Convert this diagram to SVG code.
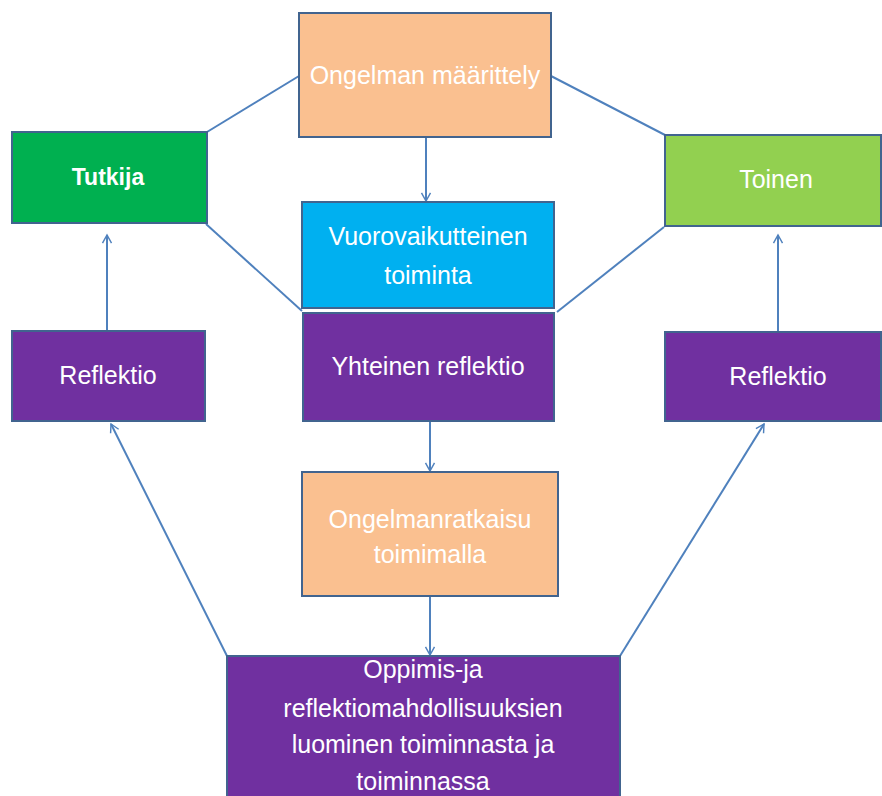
<svg xmlns="http://www.w3.org/2000/svg" width="882" height="796" viewBox="0 0 882 796">
<style>
.box{stroke:#41648F;stroke-width:2}
.t{font-family:"Liberation Sans",Arial,sans-serif;font-size:25px;fill:#FFFFFF;text-anchor:middle}
.b{font-weight:bold;font-size:23px}
.c{stroke:#4F81BD;stroke-width:2;fill:none}
</style>
<defs>
<marker id="arr" viewBox="0 0 10 10" refX="9" refY="5" markerWidth="9" markerHeight="9" markerUnits="userSpaceOnUse" orient="auto" overflow="visible">
<path d="M0,0 L9,5 L0,10" fill="none" stroke="#4F81BD" stroke-width="1.6"/>
</marker>
</defs>
<rect width="882" height="796" fill="#FFFFFF"/>
<g id="connectors">
<line class="c" x1="299" y1="76" x2="207" y2="132"/>
<line class="c" x1="551" y1="76" x2="665" y2="135"/>
<line class="c" x1="206" y1="224" x2="302" y2="311"/>
<line class="c" x1="664" y1="227" x2="557" y2="312"/>
<line class="c" x1="426" y1="137" x2="426" y2="201" marker-end="url(#arr)"/>
<line class="c" x1="430" y1="421" x2="430" y2="471" marker-end="url(#arr)"/>
<line class="c" x1="430" y1="596" x2="430" y2="655" marker-end="url(#arr)"/>
<line class="c" x1="107" y1="331" x2="107" y2="235" marker-end="url(#arr)"/>
<line class="c" x1="778" y1="332" x2="778" y2="235" marker-end="url(#arr)"/>
<line class="c" x1="227" y1="656" x2="111" y2="424" marker-end="url(#arr)"/>
<line class="c" x1="620" y1="656" x2="764" y2="424" marker-end="url(#arr)"/>
</g>
<g id="n-maarittely">
<rect class="box" x="299" y="13" width="252" height="124" fill="#FAC090"/>
<text class="t" x="425" y="84">Ongelman määrittely</text>
</g>
<g id="n-tutkija">
<rect class="box" x="12" y="132" width="195" height="91" fill="#00B050"/>
<text class="t b" x="108" y="185">Tutkija</text>
</g>
<g id="n-toinen">
<rect class="box" x="665" y="135" width="216" height="91" fill="#92D050"/>
<text class="t" x="776" y="188">Toinen</text>
</g>
<g id="n-vuoro">
<rect class="box" x="302" y="202" width="252" height="106" fill="#00B0F0"/>
<text class="t" x="428" y="245">Vuorovaikutteinen</text>
<text class="t" x="428" y="284">toiminta</text>
</g>
<g id="n-yhteinen">
<rect class="box" x="303" y="313" width="251" height="108" fill="#7030A0"/>
<text class="t" x="428" y="375">Yhteinen reflektio</text>
</g>
<g id="n-refl-left">
<rect class="box" x="12" y="331" width="193" height="90" fill="#7030A0"/>
<text class="t" x="108" y="384">Reflektio</text>
</g>
<g id="n-refl-right">
<rect class="box" x="665" y="332" width="216" height="89" fill="#7030A0"/>
<text class="t" x="778" y="385">Reflektio</text>
</g>
<g id="n-ratkaisu">
<rect class="box" x="302" y="472" width="256" height="124" fill="#FAC090"/>
<text class="t" x="430" y="528">Ongelmanratkaisu</text>
<text class="t" x="430" y="563">toimimalla</text>
</g>
<g id="n-oppimis">
<rect class="box" x="227" y="656" width="393" height="145" fill="#7030A0"/>
<text class="t" x="423" y="678">Oppimis-ja</text>
<text class="t" x="423" y="717">reflektiomahdollisuuksien</text>
<text class="t" x="423" y="753">luominen toiminnasta ja</text>
<text class="t" x="423" y="790">toiminnassa</text>
</g>
</svg>
